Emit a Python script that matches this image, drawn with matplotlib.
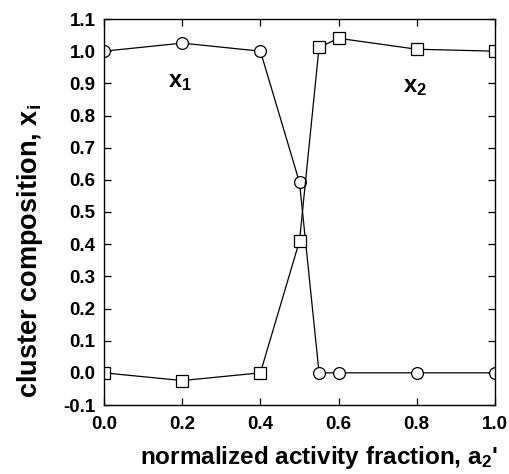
import numpy as np
import matplotlib
matplotlib.use("Agg")
import matplotlib.pyplot as plt

plt.rcParams['font.family'] = ['Liberation Sans', 'DejaVu Sans']
plt.rcParams['font.weight'] = 'bold'
plt.rcParams['axes.labelweight'] = 'bold'
plt.rcParams['mathtext.fontset'] = 'custom'
plt.rcParams['mathtext.rm'] = 'Liberation Sans:bold'
plt.rcParams['mathtext.it'] = 'Liberation Sans:bold'
plt.rcParams['mathtext.bf'] = 'Liberation Sans:bold'
plt.rcParams['mathtext.default'] = 'bf'

# data
a2 = [0.0, 0.2, 0.4, 0.5, 0.55, 0.6, 0.8, 1.0]
x1 = [1.0, 1.025, 1.0, 0.592, 0.0, 0.0, 0.0, 0.0]
x2 = [0.0, -0.024, 0.0, 0.41, 1.012, 1.04, 1.006, 1.0]

fig = plt.figure(figsize=(5.09, 4.74), dpi=100)
ax = fig.add_axes([104 / 509, 69 / 474, 391 / 509, 386 / 474])

ax.plot(a2, x1, '-o', color='black', lw=0.9, ms=8.5, mfc='white', mec='black', mew=0.9)
ax.plot(a2, x2, '-s', color='black', lw=0.9, ms=8, mfc='white', mec='black', mew=0.9)

ax.text(0.195, 0.905, '$x_1$', fontsize=17, ha='center', va='center')
ax.text(0.795, 0.89, '$x_2$', fontsize=17, ha='center', va='center')

ax.set_xlim(0, 1.0)
ax.set_ylim(-0.1, 1.1)
ax.set_xticks(np.arange(0, 1.01, 0.2))
ax.set_yticks(np.arange(-0.1, 1.11, 0.1))
ax.set_xticklabels(['%.1f' % v for v in np.arange(0, 1.01, 0.2)])
ax.set_yticklabels(['%.1f' % v for v in np.arange(-0.1, 1.11, 0.1)])
ax.tick_params(direction='in', top=True, right=True, labelsize=13.5, length=5, width=0.9)
ax.tick_params(axis='x', pad=8)
ax.tick_params(axis='y', pad=6)
for s in ax.spines.values():
    s.set_linewidth(1.0)

ax.set_xlabel("normalized activity fraction, a$_2$'", fontsize=17.5)
ax.set_ylabel('cluster composition, x$_i$', fontsize=19.5)
ax.xaxis.set_label_coords(0.55, -0.1)
ax.yaxis.set_label_coords(-0.15, 0.40)

fig.savefig('out.png', dpi=100)
